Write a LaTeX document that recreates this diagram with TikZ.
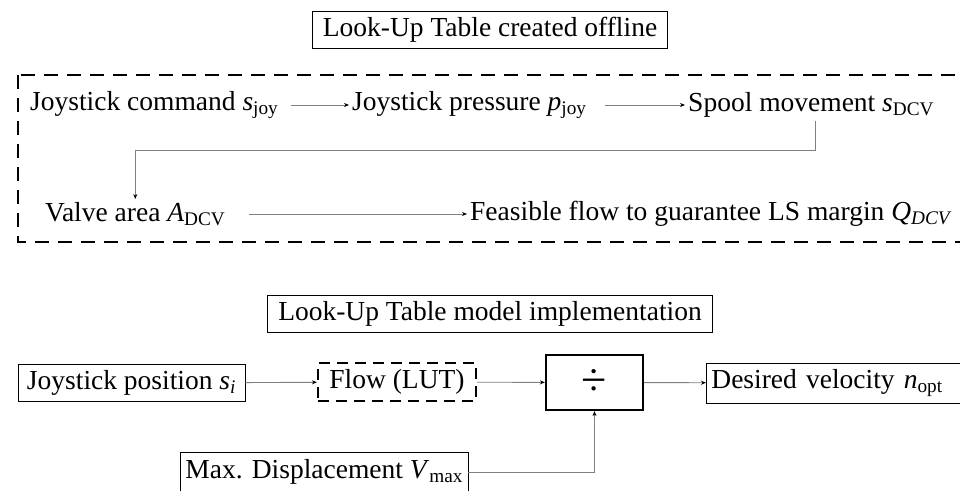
\documentclass[tikz,border=0pt]{standalone}
\usepackage{fontspec}
\setmainfont{Liberation Serif}
\usetikzlibrary{positioning, arrows.meta}
\definecolor{wire}{RGB}{128, 128, 128}
\newcommand{\qty}[2]{\textit{#1}\textsubscript{#2}}
\tikzset{
  lbl/.style={anchor=west, inner sep=3pt},
  box/.style={draw, line width=0.8pt, inner sep=5pt, minimum height=37pt},
  lutbox/.style={draw, line width=2.2pt, dash pattern=on 11pt off 7pt, inner sep=5pt, minimum height=38pt},
  link/.style={draw=wire, line width=0.9pt, -{Stealth[length=5pt, width=4pt, black]}}
}

\begin{document}
\begin{tikzpicture}[x=1pt, y=-1pt, font=\fontsize{27.5}{32}\selectfont]
  \useasboundingbox (0,0) rectangle (960,490);
  % offline part
  \node[box, minimum width=355pt] (title1) at (490,30) {Look-Up Table created offline};
  \draw[line width=2.5pt, dash pattern=on 14pt off 9pt] (18,75) rectangle (975,242);
  \node[lbl] (cmd) at (27,105) {Joystick command \qty{s}{joy}};
  \node[lbl] (press) at (349,105) {Joystick pressure \qty{p}{joy}};
  \node[lbl] (spool) at (685,105) {Spool movement \qty{s}{DCV}};
  \node[lbl] (valve) at (42,214) {Valve area \qty{A}{DCV}};
  \node[lbl] (feas) at (467,214) {Feasible flow to guarantee LS margin \qty{Q}{\textit{DCV}}};
  \draw[link] ([xshift=9pt]cmd.east) -- (press);
  \draw[link] ([xshift=15pt]press.east) -- (spool);
  \draw[link] ([xshift=4pt]spool.south) -- ++(0,30) -| (valve.north);
  \draw[link] ([xshift=20pt]valve.east) -- (feas);

  % model implementation
  \node[box, minimum width=445pt] (title2) at (490,314) {Look-Up Table model implementation};
  \node[box, minimum width=227pt] (joypos) at (131.5,383) {Joystick position \qty{s}{\textit{i}}};
  \node[lutbox, minimum width=158pt] (lut) at (397,382) {Flow (LUT)};
  \node[draw, line width=2.2pt, minimum width=97pt, minimum height=55pt] (div) at (594.5,382.5) {\fontsize{46}{46}\selectfont ÷};
  \node[box, anchor=west, text width=255pt, align=left, minimum height=40pt] (vel) at (706,383) {Desired velocity \qty{n}{opt}};
  \node[box, anchor=west, minimum height=40pt] (vmax) at (180,472) {Max. Displacement \qty{V}{max}};
  \draw[link] (joypos) -- (lut);
  \draw[link] (lut) -- (div);
  \draw[link] (div) -- (vel);
  \draw[link] (vmax.east) -| (div.south);
\end{tikzpicture}
\end{document}
